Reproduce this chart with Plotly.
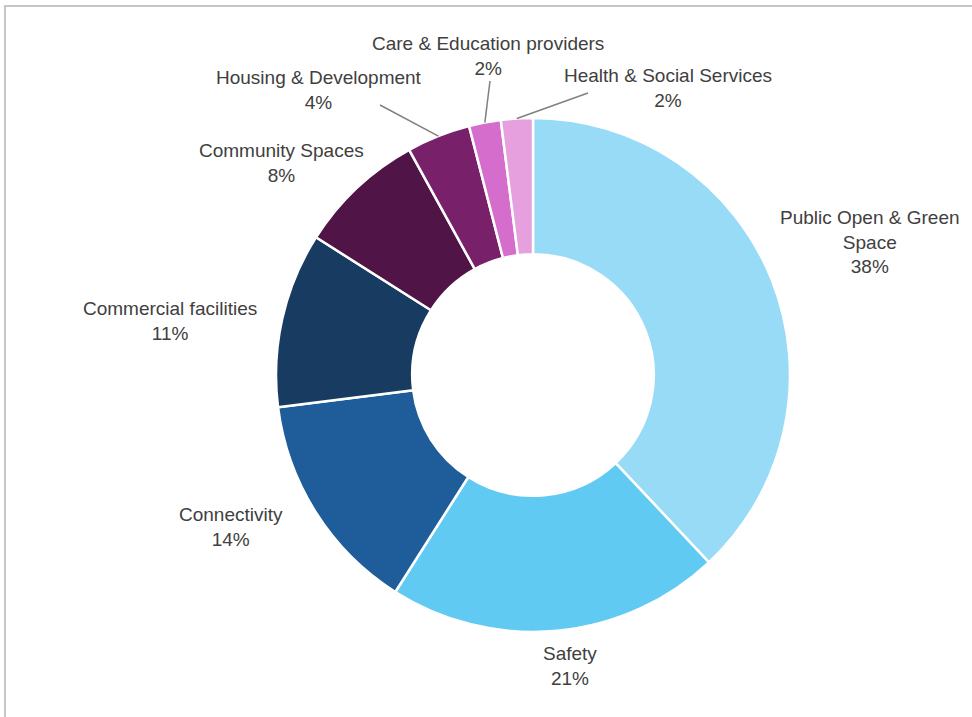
import math
import plotly.graph_objects as go

# Share of responses by theme (percent)
categories = [
    "Public Open & Green Space",
    "Safety",
    "Connectivity",
    "Commercial facilities",
    "Community Spaces",
    "Housing & Development",
    "Care & Education providers",
    "Health & Social Services",
]
values = [38, 21, 14, 11, 8, 4, 2, 2]
label_text = [
    "Public Open & Green<br>Space",
    "Safety",
    "Connectivity",
    "Commercial facilities",
    "Community Spaces",
    "Housing & Development",
    "Care & Education providers",
    "Health & Social Services",
]

colors = ["#98DBF7", "#61CAF3", "#1F5D9A", "#173B61", "#501546",
          "#782069", "#D56DCC", "#E6A0DE"]

W, H = 972, 717
CX, CY, R = 533, 375, 257          # donut centre and outer radius in px
HOLE = 0.47

# label block centres (px) and whether a leader line is drawn
label_pos = [
    (870, 242, False),
    (570, 666, False),
    (231, 527, False),
    (170, 321, False),
    (281, 163, False),
    (319, 90, True),
    (488, 56, True),
    (668, 88, True),
]
leader_start = {5: (380, 105), 6: (490, 81), 7: (588, 93)}


def px(x):
    return x / W


def py(y):
    return 1 - y / H


fig = go.Figure(go.Pie(
    labels=categories,
    values=values,
    sort=False,
    direction="clockwise",
    rotation=0,
    hole=HOLE,
    marker=dict(colors=colors, line=dict(color="white", width=2.5)),
    textinfo="none",
    hoverinfo="label+percent",
    showlegend=False,
    domain=dict(x=[px(CX - R), px(CX + R)], y=[py(CY + R), py(CY - R)]),
))

total = sum(values)
annotations = []
shapes = [dict(type="rect", xref="paper", yref="paper",
               x0=px(5), x1=px(W + 10), y0=py(H + 10), y1=py(6),
               line=dict(color="#C6C6C6", width=2), layer="below")]

cum = 0
for i, (name, v) in enumerate(zip(label_text, values)):
    mid = (cum + v / 2) / total * 2 * math.pi
    cum += v
    lx, ly, leader = label_pos[i]
    annotations.append(dict(
        x=px(lx), y=py(ly), xref="paper", yref="paper",
        text=f"{name}<br>{round(v / total * 100)}%",
        showarrow=False, xanchor="center", yanchor="middle",
        font=dict(family="Liberation Sans, Arial, sans-serif", size=19, color="#404040"),
    ))
    if leader:
        ex = CX + R * math.sin(mid)
        ey = CY - R * math.cos(mid)
        sx, sy = leader_start[i]
        shapes.append(dict(type="line", xref="paper", yref="paper",
                           x0=px(sx), y0=py(sy), x1=px(ex), y1=py(ey),
                           line=dict(color="#808080", width=1.5)))

fig.update_layout(
    width=W, height=H,
    margin=dict(l=0, r=0, t=0, b=0),
    paper_bgcolor="white",
    plot_bgcolor="white",
    annotations=annotations,
    shapes=shapes,
)

fig.write_html("out.html")
